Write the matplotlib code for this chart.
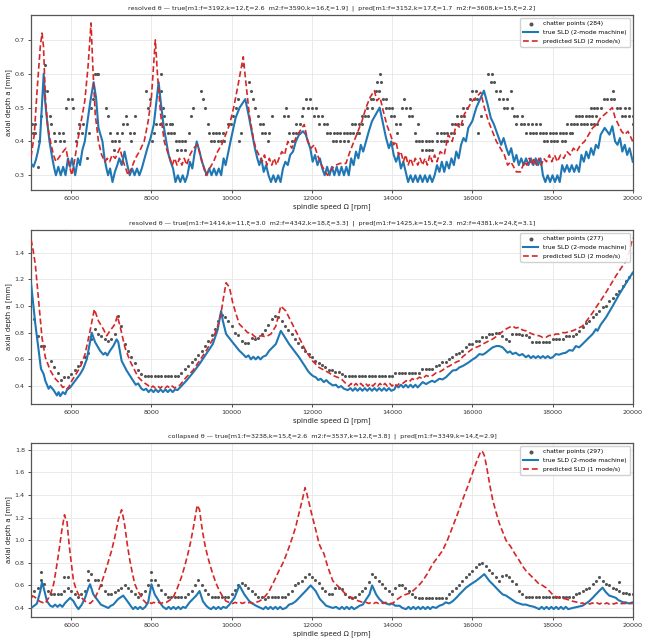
import numpy as np
import matplotlib
matplotlib.use("Agg")
import matplotlib.pyplot as plt

# ── data ──────────────────────────────────────────────────────
titles = [
    "resolved θ — true[m1:f=3192,k=12,ξ=2.6  m2:f=3590,k=16,ξ=1.9]  |  pred[m1:f=3152,k=17,ξ=1.7  m2:f=3608,k=15,ξ=2.2]",
    "resolved θ — true[m1:f=1414,k=11,ξ=3.0  m2:f=4342,k=18,ξ=3.3]  |  pred[m1:f=1425,k=15,ξ=2.3  m2:f=4381,k=24,ξ=3.1]",
    "collapsed θ — true[m1:f=3238,k=15,ξ=2.6  m2:f=3537,k=12,ξ=3.8]  |  pred[m1:f=3349,k=14,ξ=2.9]",
]
n_chatter = [284, 277, 297]
pred_modes = [2, 2, 1]

# panel 1 chatter points (rpm, depth)
chat1 = [
    (5025, .45), (5099, .45), (5050, .425), (5099, .425), (5190, .4), (5165, .325), (5256, .475),
    (5355, .625), (5314, .55), (5396, .55), (5463, .475), (5496, .45), (5578, .425), (5686, .425),
    (5785, .425), (5603, .4), (5710, .4), (5809, .4), (5867, .5), (5917, .525), (6016, .525),
    (6057, .5), (6123, .4), (6181, .425), (6264, .425), (6206, .45), (6305, .45), (6404, .35),
    (6454, .425), (6495, .5), (6553, .525), (6594, .6), (6635, .6), (6677, .6), (6859, .5),
    (6908, .475), (6966, .425), (7007, .4), (7090, .4), (7197, .4), (7065, .375), (7148, .425),
    (7255, .425), (7296, .45), (7395, .45), (7362, .475), (7461, .425), (7561, .425), (7503, .4),
    (7602, .475), (7858, .55), (7916, .5), (7957, .525), (8015, .4), (8056, .425), (8122, .45),
    (8205, .45), (8246, .6), (8230, .55), (8288, .5), (8312, .475), (8370, .45), (8453, .45),
    (8519, .45), (8411, .425), (8494, .425), (8560, .425), (8601, .4), (8684, .4), (8767, .4),
    (8849, .4), (8643, .375), (8742, .375), (8833, .375), (8948, .425), (8990, .475), (9047, .5),
    (9237, .55), (9295, .525), (9346, .5), (9403, .45), (9444, .425), (9527, .425), (9609, .425),
    (9692, .425), (9774, .425), (9486, .4), (9568, .4), (9651, .4), (9733, .4), (9816, .4),
    (9899, .45), (9981, .45), (10039, .475),
    (10108, .5), (10149, .525), (10191, .4), (10232, .425), (10290, .625), (10440, .575),
    (10481, .55), (10540, .525), (10589, .5), (10647, .475), (10706, .45), (10789, .45),
    (10747, .425), (10838, .425), (10938, .425), (10896, .4), (10996, .475), (11353, .5),
    (11295, .475), (11394, .475), (11436, .425), (11519, .425), (11602, .425), (11668, .425),
    (11502, .4), (11602, .45), (11702, .45), (11751, .475), (11785, .5), (11892, .5), (11992, .5),
    (12100, .5), (11851, .525), (11951, .525), (12058, .475), (12141, .475), (12249, .475),
    (12183, .45), (12291, .45), (12390, .45),
    (12366, .425), (12449, .425), (12540, .425), (12623, .425), (12706, .425), (12789, .425),
    (12872, .425), (12955, .425), (13038, .425), (13121, .425), (13179, .425),
    (12515, .4), (12598, .4), (12698, .4), (12805, .4), (12913, .4),
    (12996, .45), (13079, .45), (13179, .45), (13262, .45), (13245, .475), (13328, .475),
    (13411, .475), (13386, .5), (13494, .5), (13469, .525), (13528, .525), (13594, .55),
    (13677, .55), (13619, .575), (13718, .575), (13702, .6), (13777, .525), (13843, .525),
    (13860, .5), (13926, .5), (14009, .5), (13967, .475), (14050, .475), (14092, .45),
    (14192, .45), (14133, .425), (14258, .5), (14341, .5), (14449, .5), (14299, .525),
    (14424, .475), (14507, .475), (14656, .45), (14573, .425),
    (14590, .4), (14673, .4), (14756, .4), (14839, .4), (14922, .4), (15005, .4),
    (14756, .375), (14839, .375), (14922, .375), (15005, .375),
    (15129, .4), (15212, .4), (15295, .4), (15378, .4),
    (15129, .425), (15212, .425), (15295, .425), (15378, .425), (15461, .425), (15544, .425),
    (15485, .45), (15568, .45), (15651, .45), (15734, .45), (15627, .475), (15710, .475),
    (15793, .475), (15776, .5), (15876, .5), (15942, .525), (16042, .525), (16125, .525),
    (16000, .55), (16083, .55), (16208, .475), (16149, .425), (16398, .6), (16498, .6),
    (16456, .575), (16540, .575), (16581, .55), (16681, .55), (16664, .525), (16764, .525),
    (16872, .525), (16955, .55), (16789, .5), (16872, .5), (16979, .5), (17037, .475),
    (17121, .475), (17228, .475),
    (17096, .45), (17204, .45), (17287, .45), (17394, .45), (17494, .45), (17577, .45), (17677, .45),
    (17345, .425), (17428, .425), (17511, .425), (17594, .425), (17677, .425), (17760, .425),
    (17843, .425), (17926, .425), (18009, .425), (18092, .425), (18175, .425), (18258, .425),
    (18341, .425), (18424, .425), (18490, .425),
    (17785, .4), (17868, .4), (17950, .4), (18033, .4), (18117, .4), (18224, .4), (18307, .4),
    (18366, .45), (18449, .45), (18532, .45), (18615, .45), (18698, .45), (18781, .45),
    (18864, .45), (18947, .45), (19030, .45), (19113, .45),
    (18573, .475), (18656, .475), (18739, .475), (18822, .475), (18905, .475), (18988, .475),
    (19071, .475), (18947, .5), (19030, .5), (19113, .5), (19196, .5),
    (19279, .525), (19362, .525), (19445, .525), (19528, .525), (19503, .55),
    (19611, .5), (19694, .5), (19818, .5), (19901, .5),
    (19735, .475), (19818, .475), (19901, .475), (20000, .475), (20000, .45),
]

# panels 2 and 3: one chatter point per tested speed (nan = none)
chat_rpm = np.linspace(5000, 20000, 181)
nan = np.nan
chat2_a = [
    nan, .90, .777, .70, .70, nan, .585, .54, .50, .445,
    .47, .47, .49, .52, .55, .58, .615, .65, .75, .827,
    .79, .777, .75, .74, .75, .79, .926, .85, .715, .665,
    .62, .57, .52, .49, .474, .474, .474, .474, .474, .474,
    .474, .474, .474, .474, .474, .50, .53, .55, .58, .60,
    .63, .665, .70, .74, .78, .827, .89, .93, .914, .89,
    .85, .80, .78, .74, .72, .72, .76, .75, .76, .79,
    .82, .86, .90, .926, .92, .89, .85, .82, .79, .75,
    .72, .69, .665, .64, .615, .59, .57, .555, .54, .52,
    .52, .505, .505, .49, .474, .474, .474, .474, .474, .474,
    .474, .474, .474, .474, .474, .474, .474, .474, .474, .50,
    .50, .50, .50, .50, .50, .50, .50, .53, .53, .53,
    .53, .55, .555, .58, .58, .60, .615, .64, .65, .665,
    .69, .715, .715, .74, .74, .765, .765, .79, .79, .80,
    .80, .777, .75, .74, .79, .79, .79, .78, .78, .77,
    .727, .727, .727, .727, .727, .727, .75, .75, .75, .75,
    .777, .777, .777, .79, .815, .84, .87, .89, .914, .94,
    .96, .99, 1.0, 1.04, 1.06, 1.087, 1.11, 1.15, 1.19, 1.22,
    1.25,
]
chat3_a = [
    .51, .55, .58, .65, .61, .55, .52, .52, .52, .52,
    .55, .58, .55, .52, .50, .52, .55, .65, .70, .65,
    .65, .60, .55, .52, .52, .54, .56, .58, .60, .58,
    .55, .52, .50, .52, .55, .60, .65, .65, .60, .56,
    .52, .50, .50, .50, .50, .50, .50, .52, .55, .60,
    .65, .60, .56, .52, .50, .50, .50, .50, .50, .50,
    .52, .56, .60, .62, .60, .58, .55, .52, .50, .50,
    .48, .50, .50, .50, .50, .50, .50, .52, .55, .60,
    .62, .64, .67, .70, .67, .65, .62, .58, .55, .52,
    .52, .58, .58, .57, .52, .50, .49, .50, .52, .55,
    .58, .63, .70, .67, .64, .61, .58, .55, .52, .58,
    .60, .60, .58, .55, .52, .50, .49, .49, .49, .49,
    .49, .49, .49, .49, .49, .52, .55, .58, .60, .64,
    .67, .70, .73, .76, .79, .80, .77, .74, .71, .67,
    .64, .68, .69, .67, .64, .61, .55, .52, .50, .50,
    .50, .50, .50, .50, .50, .50, .50, .50, .50, .50,
    .50, .50, .50, .52, .53, .55, .57, .58, .61, .64,
    .67, .64, .61, .60, .58, .57, .55, .53, .53, .52,
    .52,
]
chat3_extra = [(5250, .72), (5833, .67), (5917, .67), (6417, .73), (8000, .72), (19667, .63)]

# SLD curves (rpm, depth)
true1 = [
    (5000, .335), (5060, .325), (5120, .345), (5170, .37), (5220, .40), (5315, .60), (5350, .52),
    (5400, .46), (5460, .40), (5530, .35), (5580, .32), (5620, .30), (5680, .325), (5740, .30),
    (5800, .325), (5860, .30), (5920, .35), (5970, .325), (6020, .35), (6100, .30), (6170, .35),
    (6220, .33), (6280, .375), (6340, .40), (6420, .47), (6480, .52), (6560, .575), (6620, .53),
    (6680, .44), (6780, .40), (6830, .35), (6880, .32), (6920, .30), (6970, .32), (7030, .28),
    (7090, .31), (7150, .33), (7200, .35), (7260, .33), (7330, .37), (7400, .33), (7460, .30),
    (7520, .32), (7580, .30), (7640, .32), (7700, .30), (7760, .32), (7830, .35), (7900, .38),
    (7980, .41), (8060, .45), (8180, .575), (8230, .52), (8300, .45), (8370, .40), (8430, .36),
    (8480, .34), (8540, .32), (8600, .28), (8660, .30), (8720, .28), (8780, .30), (8840, .28),
    (8900, .30), (8960, .34), (9020, .32), (9070, .36), (9130, .40), (9200, .37), (9260, .34),
    (9320, .32), (9380, .30), (9440, .32), (9500, .30), (9560, .32), (9620, .30), (9680, .32),
    (9740, .30), (9800, .35), (9850, .33), (9920, .37), (9990, .41), (10100, .47), (10200, .50),
    (10340, .525), (10420, .48), (10500, .43), (10580, .38), (10640, .35), (10690, .33),
    (10740, .35), (10800, .31), (10860, .33), (10920, .30), (10980, .28), (11040, .30),
    (11100, .28), (11160, .30), (11220, .28), (11280, .32), (11340, .34), (11400, .33),
    (11460, .36), (11530, .37), (11600, .40), (11680, .42), (11780, .43), (11850, .42),
    (11900, .40), (11960, .38), (12020, .34), (12080, .36), (12140, .33), (12200, .35),
    (12260, .32), (12320, .30), (12380, .325), (12440, .30), (12500, .325), (12560, .30),
    (12620, .325), (12680, .30), (12740, .325), (12800, .30), (12860, .325), (12920, .30),
    (12980, .35), (13040, .33), (13100, .37), (13160, .35), (13220, .39), (13280, .37),
    (13350, .40), (13420, .43), (13500, .46), (13690, .50), (13780, .45), (13850, .41),
    (13920, .38), (13980, .40), (14040, .36), (14100, .34), (14160, .36), (14220, .32),
    (14280, .34), (14340, .31), (14400, .28), (14460, .30), (14520, .28), (14580, .30),
    (14640, .28), (14700, .30), (14760, .28), (14820, .30), (14880, .28), (14940, .30),
    (15000, .28), (15060, .30), (15120, .33), (15180, .31), (15240, .34), (15300, .31),
    (15360, .34), (15420, .32), (15480, .35), (15540, .33), (15600, .37), (15660, .35),
    (15720, .39), (15780, .41), (15840, .40), (15900, .44), (16000, .46), (16100, .50),
    (16290, .55), (16380, .51), (16460, .47), (16540, .45), (16600, .43), (16660, .41),
    (16720, .39), (16780, .41), (16850, .38), (16910, .36), (16970, .38), (17040, .34),
    (17100, .36), (17160, .33), (17220, .35), (17280, .33), (17340, .35), (17400, .33),
    (17460, .35), (17520, .33), (17580, .35), (17640, .33), (17700, .35), (17760, .30),
    (17820, .28), (17880, .30), (17940, .28), (18000, .30), (18060, .28), (18120, .30),
    (18180, .28), (18240, .33), (18300, .31), (18360, .33), (18420, .31), (18480, .33),
    (18540, .31), (18600, .33), (18660, .31), (18720, .36), (18780, .34), (18840, .37),
    (18900, .35), (18960, .38), (19020, .36), (19080, .39), (19140, .38), (19200, .42),
    (19300, .44), (19420, .42), (19490, .445), (19560, .40), (19620, .39), (19680, .41),
    (19740, .37), (19800, .39), (19860, .36), (19920, .38), (20000, .34),
]
pred1 = [
    (5000, .355), (5080, .42), (5150, .55), (5230, .68), (5273, .72), (5310, .68), (5360, .52),
    (5420, .44), (5500, .39), (5560, .36), (5620, .34), (5680, .35), (5740, .36), (5800, .37),
    (5870, .38), (5930, .34), (6016, .30), (6080, .34), (6160, .40), (6250, .46), (6340, .52),
    (6420, .62), (6495, .75), (6540, .62), (6600, .48), (6680, .40), (6760, .36), (6840, .34),
    (6900, .35), (6960, .34), (7020, .36), (7100, .35), (7214, .38), (7300, .34), (7420, .30),
    (7500, .32), (7600, .35), (7700, .37), (7820, .40), (7920, .46), (8000, .53), (8098, .70),
    (8150, .60), (8230, .48), (8320, .40), (8400, .37), (8460, .35), (8520, .33), (8580, .35),
    (8640, .33), (8700, .35), (8760, .33), (8820, .35), (8880, .33), (8960, .36), (9050, .38),
    (9150, .39), (9240, .35), (9360, .30), (9450, .32), (9550, .34), (9650, .37), (9750, .39),
    (9850, .42), (9950, .45), (10050, .50), (10150, .56), (10290, .65), (10350, .58),
    (10440, .48), (10540, .41), (10600, .38), (10680, .36), (10760, .34), (10820, .36),
    (10880, .33), (10940, .35), (11000, .33), (11060, .35), (11120, .33), (11180, .35),
    (11250, .37), (11320, .36), (11400, .40), (11500, .38), (11600, .41), (11700, .43),
    (11810, .45), (11900, .40), (11980, .38), (12060, .39), (12140, .36), (12240, .33),
    (12390, .30), (12500, .32), (12600, .33), (12700, .335), (12850, .335), (12950, .37),
    (13050, .40), (13150, .43), (13250, .46), (13350, .50), (13450, .53), (13560, .55),
    (13620, .52), (13700, .53), (13800, .48), (13880, .445), (13960, .42), (14040, .39),
    (14100, .40), (14160, .36), (14220, .37), (14280, .34), (14340, .36), (14400, .33),
    (14460, .35), (14520, .33), (14580, .35), (14640, .33), (14700, .35), (14760, .33),
    (14820, .35), (14880, .33), (14940, .36), (15000, .34), (15060, .36), (15120, .34),
    (15200, .37), (15300, .36), (15400, .42), (15500, .40), (15600, .45), (15700, .44),
    (15800, .48), (15900, .50), (16000, .52), (16100, .53), (16210, .545), (16300, .50),
    (16400, .46), (16500, .43), (16600, .40), (16700, .38), (16800, .36), (16880, .33),
    (16960, .34), (17100, .31), (17200, .31), (17300, .34), (17360, .33), (17420, .35),
    (17480, .33), (17540, .35), (17600, .33), (17660, .35), (17720, .33), (17780, .35),
    (17850, .34), (17920, .36), (17980, .34), (18050, .36), (18120, .34), (18200, .36),
    (18280, .35), (18360, .37), (18440, .36), (18520, .38), (18600, .37), (18700, .39),
    (18800, .40), (18900, .42), (19000, .44), (19100, .45), (19200, .47), (19300, .48),
    (19400, .49), (19490, .50), (19560, .47), (19640, .45), (19720, .43), (19800, .42),
    (19880, .43), (20000, .40),
]
true2 = [
    (5000, 1.17), (5107, .864), (5190, .665), (5247, .53), (5314, .49), (5355, .44), (5438, .38),
    (5479, .40), (5562, .37), (5644, .33), (5686, .355), (5727, .325), (5793, .355), (5851, .34),
    (5892, .37), (5975, .39), (6100, .44), (6223, .49), (6300, .53), (6389, .60), (6513, .80),
    (6595, .73), (6720, .665), (6802, .636), (6850, .65), (6900, .63), (6968, .665), (7050, .70),
    (7133, .75), (7174, .73), (7257, .59), (7381, .517), (7460, .48), (7546, .44), (7610, .41),
    (7670, .42), (7753, .38), (7810, .37), (7870, .38), (7930, .355), (7990, .375), (8050, .355),
    (8110, .375), (8170, .355), (8230, .375), (8290, .355), (8350, .375), (8410, .355),
    (8470, .375), (8530, .355), (8590, .375), (8650, .37), (8746, .40), (8870, .44), (9035, .50),
    (9200, .566), (9366, .64), (9531, .715), (9650, .82), (9738, .963), (9780, .89), (9862, .79),
    (10027, .727), (10193, .665), (10280, .64), (10358, .616), (10420, .63), (10480, .60),
    (10540, .62), (10600, .60), (10660, .62), (10720, .60), (10780, .62), (10860, .63),
    (10937, .665), (11020, .69), (11103, .715), (11226, .814), (11330, .765), (11433, .715),
    (11560, .665), (11681, .616), (11760, .58), (11847, .54), (11910, .51), (11971, .49),
    (12030, .475), (12095, .467), (12160, .445), (12219, .455), (12300, .43), (12360, .445),
    (12426, .425), (12523, .405), (12600, .41), (12660, .39), (12730, .40), (12800, .38),
    (12896, .37), (12960, .385), (13020, .365), (13080, .385), (13140, .365), (13200, .385),
    (13260, .365), (13320, .385), (13380, .365), (13440, .385), (13500, .365), (13560, .385),
    (13620, .365), (13680, .385), (13740, .365), (13800, .385), (13860, .365), (13920, .385),
    (13980, .365), (14058, .375), (14100, .405), (14160, .39), (14220, .41), (14280, .39),
    (14340, .41), (14400, .39), (14460, .41), (14520, .39), (14580, .41), (14640, .39),
    (14700, .41), (14764, .43), (14850, .415), (14930, .43), (15000, .44), (15060, .43),
    (15179, .455), (15260, .45), (15345, .467), (15420, .49), (15511, .517), (15600, .52),
    (15677, .54), (15760, .55), (15843, .566), (15920, .58), (16009, .60), (16090, .615),
    (16175, .64), (16260, .635), (16340, .65), (16420, .67), (16507, .69), (16600, .70),
    (16673, .70), (16756, .69), (16880, .65), (16940, .66), (17005, .64), (17080, .65),
    (17171, .63), (17250, .64), (17337, .616), (17400, .63), (17460, .61), (17520, .625),
    (17580, .61), (17640, .625), (17700, .61), (17760, .625), (17820, .61), (17880, .625),
    (17940, .61), (18000, .615), (18084, .64), (18160, .635), (18250, .645), (18333, .65),
    (18420, .67), (18500, .665), (18582, .70), (18660, .69), (18748, .715), (18830, .74),
    (18914, .765), (19000, .79), (19080, .827), (19121, .814), (19200, .86), (19329, .913),
    (19500, 1.0), (19661, 1.087), (19830, 1.17), (20000, 1.25),
]
pred2 = [
    (5000, 1.497), (5050, 1.42), (5107, 1.31), (5190, 1.04), (5272, .765), (5355, .616),
    (5479, .517), (5603, .455), (5727, .417), (5790, .39), (5851, .40), (5900, .38), (5934, .39),
    (6016, .44), (6120, .49), (6223, .54), (6347, .64), (6471, .814), (6579, .976), (6678, .889),
    (6802, .827), (6885, .777), (6968, .814), (7092, .864), (7150, .926), (7216, .852),
    (7340, .69), (7464, .59), (7546, .54), (7670, .467), (7795, .43), (7919, .405), (7980, .385),
    (8040, .40), (8100, .385), (8160, .40), (8220, .385), (8280, .40), (8340, .385), (8400, .40),
    (8460, .385), (8520, .40), (8580, .385), (8640, .40), (8704, .405), (8870, .467),
    (9035, .517), (9200, .59), (9366, .665), (9531, .752), (9655, .85), (9738, .95),
    (9796, 1.06), (9862, 1.174), (9945, 1.14), (10027, 1.025), (10110, .94), (10193, .864),
    (10317, .827), (10400, .80), (10483, .80), (10540, .78), (10607, .765), (10731, .777),
    (10855, .77), (10979, .79), (11103, .85), (11226, 1.0), (11350, .963), (11516, .864),
    (11681, .765), (11847, .665), (12012, .59), (12178, .54), (12300, .52), (12426, .50),
    (12523, .48), (12730, .455), (12855, .417), (12920, .40), (12980, .42), (13040, .40),
    (13100, .42), (13160, .40), (13220, .42), (13280, .40), (13340, .42), (13400, .40),
    (13460, .42), (13520, .40), (13580, .42), (13640, .40), (13700, .42), (13760, .40),
    (13820, .42), (13880, .40), (13940, .42), (14000, .40), (14060, .42), (14120, .40),
    (14180, .42), (14266, .42), (14349, .44), (14420, .43), (14500, .455), (14580, .445),
    (14680, .467), (14760, .455), (14850, .48), (14930, .47), (15013, .48), (15100, .50),
    (15179, .505), (15260, .52), (15345, .54), (15430, .55), (15511, .566), (15600, .58),
    (15677, .59), (15760, .62), (15843, .64), (15920, .66), (16009, .68), (16090, .69),
    (16175, .70), (16260, .715), (16340, .727), (16420, .74), (16507, .752), (16590, .77),
    (16673, .79), (16760, .81), (16839, .827), (16920, .84), (17005, .85), (17080, .835),
    (17171, .84), (17250, .82), (17337, .814), (17420, .80), (17503, .79), (17580, .78),
    (17669, .777), (17750, .765), (17835, .765), (17920, .78), (18000, .777), (18080, .79),
    (18167, .79), (18250, .80), (18333, .80), (18420, .81), (18499, .814), (18620, .83),
    (18748, .85), (18830, .88), (18914, .914), (19000, .95), (19080, .988), (19200, 1.04),
    (19329, 1.10), (19450, 1.16), (19578, 1.224), (19700, 1.28), (19827, 1.335), (19920, 1.42),
    (20000, 1.51),
]
true3 = [
    (5000, .40), (5080, .42), (5148, .44), (5231, .55), (5272, .627), (5314, .58), (5396, .46),
    (5479, .42), (5540, .41), (5600, .43), (5660, .41), (5720, .43), (5780, .41), (5840, .44),
    (5892, .46), (5975, .49), (6058, .46), (6120, .42), (6182, .39), (6265, .43), (6347, .49),
    (6430, .58), (6471, .61), (6554, .52), (6678, .46), (6740, .43), (6802, .42), (6860, .41),
    (6926, .40), (6990, .42), (7050, .43), (7174, .48), (7298, .51), (7422, .45), (7500, .41),
    (7546, .39), (7600, .41), (7660, .39), (7720, .41), (7780, .39), (7850, .41), (7919, .45),
    (8001, .61), (8084, .52), (8208, .45), (8290, .41), (8373, .39), (8430, .41), (8490, .39),
    (8550, .41), (8610, .39), (8670, .41), (8730, .39), (8790, .41), (8850, .40), (8952, .45),
    (9035, .48), (9118, .51), (9200, .55), (9283, .46), (9366, .42), (9430, .40), (9490, .39),
    (9550, .41), (9610, .39), (9670, .41), (9730, .39), (9790, .41), (9862, .40), (9945, .43),
    (10069, .49), (10193, .60), (10317, .52), (10441, .46), (10520, .44), (10607, .42),
    (10670, .41), (10731, .40), (10790, .39), (10850, .41), (10910, .39), (10970, .41),
    (11030, .39), (11090, .41), (11150, .39), (11210, .41), (11270, .39), (11351, .40),
    (11433, .43), (11520, .44), (11599, .46), (11680, .49), (11764, .52), (11870, .56),
    (11971, .60), (12095, .55), (12200, .48), (12280, .45), (12357, .42), (12440, .41),
    (12523, .40), (12600, .41), (12689, .39), (12750, .41), (12810, .39), (12870, .41),
    (12930, .39), (12990, .41), (13050, .39), (13104, .40), (13190, .42), (13270, .43),
    (13360, .48), (13436, .52), (13502, .60), (13602, .52), (13680, .48), (13768, .45),
    (13850, .44), (13934, .43), (14000, .44), (14080, .42), (14183, .42), (14260, .40),
    (14349, .39), (14410, .41), (14470, .39), (14530, .41), (14590, .39), (14650, .41),
    (14710, .39), (14770, .41), (14830, .39), (14890, .41), (14950, .39), (15010, .41),
    (15096, .40), (15180, .42), (15262, .43), (15340, .45), (15420, .44), (15511, .46),
    (15600, .49), (15677, .52), (15760, .55), (15843, .58), (15960, .61), (16092, .64),
    (16200, .67), (16299, .70), (16360, .67), (16424, .64), (16510, .61), (16590, .58),
    (16670, .55), (16756, .52), (16840, .51), (16922, .49), (17000, .47), (17088, .45),
    (17170, .44), (17254, .43), (17340, .43), (17420, .42), (17540, .41), (17669, .39),
    (17730, .41), (17790, .39), (17850, .41), (17910, .39), (17970, .41), (18030, .39),
    (18090, .41), (18150, .39), (18210, .41), (18270, .39), (18330, .41), (18390, .39),
    (18499, .40), (18620, .41), (18748, .42), (18830, .44), (18914, .46), (19000, .49),
    (19080, .52), (19160, .55), (19246, .58), (19330, .54), (19412, .51), (19500, .50),
    (19578, .49), (19640, .47), (19702, .46), (19760, .45), (19827, .45), (19900, .44),
    (20000, .45),
]
pred3 = [
    (5000, .51), (5080, .50), (5148, .48), (5210, .46), (5272, .45), (5355, .44), (5438, .49),
    (5500, .54), (5562, .61), (5620, .73), (5686, .88), (5768, 1.09), (5834, 1.225), (5860, 1.19),
    (5892, 1.18), (5930, 1.03), (5975, .88), (6058, .64), (6120, .57), (6182, .52), (6260, .49),
    (6347, .46), (6410, .45), (6471, .44), (6530, .46), (6595, .49), (6700, .57), (6802, .67),
    (6900, .78), (7009, .91), (7090, 1.03), (7174, 1.18), (7257, 1.27), (7300, 1.20),
    (7340, 1.12), (7400, .96), (7464, .82), (7530, .70), (7588, .61), (7650, .56), (7712, .52),
    (7800, .47), (7877, .44), (7940, .45), (8000, .44), (8060, .45), (8120, .44), (8180, .45),
    (8240, .44), (8300, .45), (8373, .45), (8460, .47), (8539, .49), (8640, .57), (8746, .67),
    (8830, .77), (8911, .88), (8975, .98), (9035, 1.09), (9100, 1.22), (9143, 1.31),
    (9200, 1.27), (9240, 1.16), (9283, 1.06), (9340, .95), (9407, .85), (9470, .77), (9531, .70),
    (9610, .62), (9697, .55), (9780, .50), (9862, .46), (9940, .45), (10027, .44), (10090, .45),
    (10150, .44), (10210, .45), (10270, .44), (10330, .45), (10390, .44), (10450, .45),
    (10510, .44), (10606, .45), (10690, .46), (10772, .48), (10850, .51), (10937, .55),
    (11020, .61), (11103, .67), (11180, .73), (11268, .79), (11350, .86), (11433, .94),
    (11520, 1.03), (11599, 1.12), (11680, 1.24), (11764, 1.36), (11830, 1.465), (11870, 1.42),
    (11930, 1.33), (11990, 1.24), (12054, 1.15), (12120, 1.06), (12178, .97), (12240, .92),
    (12302, .88), (12400, .76), (12523, .64), (12600, .61), (12689, .58), (12770, .55),
    (12855, .52), (12940, .50), (13021, .49), (13100, .47), (13187, .46), (13270, .45),
    (13353, .45), (13420, .44), (13480, .45), (13540, .44), (13600, .45), (13660, .44),
    (13720, .45), (13780, .44), (13840, .45), (13900, .44), (14017, .44), (14100, .47),
    (14183, .49), (14260, .51), (14349, .52), (14430, .53), (14515, .55), (14640, .59),
    (14764, .64), (14890, .71), (15013, .79), (15140, .85), (15262, .91), (15390, 1.01),
    (15511, 1.12), (15640, 1.24), (15760, 1.36), (15890, 1.48), (16009, 1.60), (16070, 1.66),
    (16133, 1.72), (16216, 1.79), (16260, 1.78), (16299, 1.75), (16340, 1.68), (16382, 1.60),
    (16440, 1.48), (16507, 1.36), (16590, 1.25), (16673, 1.15), (16760, 1.07), (16839, 1.00),
    (16963, .94), (17060, .88), (17171, .82), (17254, .77), (17337, .73), (17420, .70),
    (17503, .67), (17590, .64), (17669, .61), (17750, .60), (17835, .58), (17920, .55),
    (18000, .52), (18080, .50), (18167, .49), (18250, .485), (18333, .48), (18420, .47),
    (18499, .46), (18560, .455), (18624, .45), (18690, .44), (18748, .445), (18810, .435),
    (18870, .445), (18930, .435), (18990, .445), (19050, .435), (19110, .445), (19170, .435),
    (19230, .445), (19290, .435), (19350, .445), (19410, .435), (19470, .445), (19530, .435),
    (19590, .445), (19650, .435), (19744, .44), (20000, .44),
]

# ── figure ────────────────────────────────────────────────────
plt.rcParams["font.family"] = ["DejaVu Sans"]
fig = plt.figure(figsize=(6.47, 6.41), dpi=100)
rects = [
    [0.048, 0.7036, 0.930, 0.273],
    [0.048, 0.3697, 0.930, 0.2715],
    [0.048, 0.0374, 0.930, 0.2714],
]

c1 = np.array(chat1).T
e3 = np.array(chat3_extra).T
chatter = [
    (c1[0], c1[1]),
    (chat_rpm, np.array(chat2_a)),
    (np.concatenate([chat_rpm, e3[0]]), np.concatenate([np.array(chat3_a), e3[1]])),
]
trues = [true1, true2, true3]
preds = [pred1, pred2, pred3]

for i in range(3):
    ax = fig.add_axes(rects[i])
    cx, cy = chatter[i]
    t = np.array(trues[i]).T
    p = np.array(preds[i]).T
    ax.scatter(cx, cy, s=5, color="#555555", linewidths=0, zorder=2,
               label=f"chatter points ({n_chatter[i]})")
    ax.plot(t[0], t[1], color="#1f77b4", lw=1.5, zorder=3,
            label="true SLD (2-mode machine)")
    ax.plot(p[0], p[1], color="#d62728", lw=1.2, ls="--", dashes=(3.5, 1.8), zorder=4,
            label=f"predicted SLD ({pred_modes[i]} mode/s)")
    ax.set_xlim(5000, 20000)
    ax.set_xticks(range(6000, 20001, 2000))
    ax.grid(True, color="#e6e6e6", lw=0.6)
    ax.set_axisbelow(True)
    ax.tick_params(labelsize=4.6, length=2.5, width=0.6, pad=2, colors="#333333")
    for s in ax.spines.values():
        s.set_color("#555555")
        s.set_linewidth(0.9)
    ax.set_title(titles[i], fontsize=4.6, pad=4, color="#222222")
    ax.set_xlabel("spindle speed Ω [rpm]", fontsize=5, labelpad=1.5, color="#222222")
    ax.set_ylabel("axial depth a [mm]", fontsize=5, labelpad=2, color="#222222")
    ax.legend(loc="upper right", fontsize=4.3, framealpha=0.9, borderpad=0.5,
              handlelength=2.5, labelspacing=0.6, markerscale=1.3, edgecolor="#cccccc")

fig.savefig("out.png", dpi=100)
